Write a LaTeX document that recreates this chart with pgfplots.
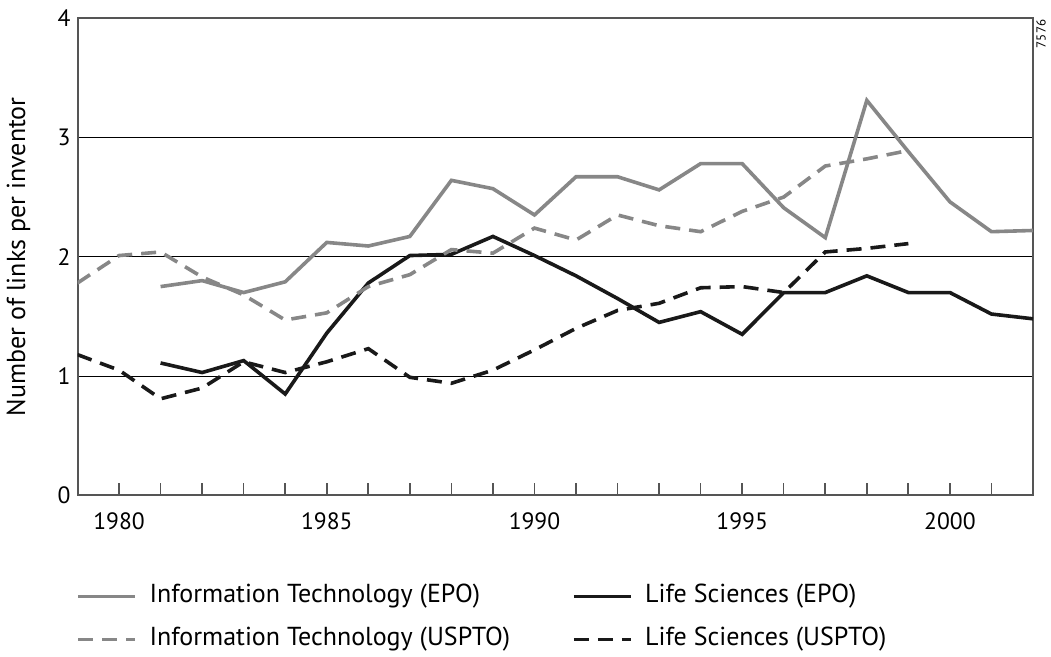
\documentclass[border=0pt]{standalone}
\usepackage{fontspec}
\setmainfont{PT Sans}
\usepackage{pgfplots}
\pgfplotsset{compat=1.18}
\definecolor{itgray}{RGB}{135,135,135}
\definecolor{lsblack}{RGB}{25,25,25}
\definecolor{framegray}{RGB}{85,85,85}
\newcommand{\tfont}{\fontsize{11.8}{14}\selectfont}
\newcommand{\lfont}{\fontsize{13}{15.5}\selectfont}
\begin{document}
\begin{tikzpicture}
\useasboundingbox (0,0) rectangle (525.5pt,328.5pt);
\begin{axis}[
  at={(38.75pt,80.75pt)}, anchor=south west,
  scale only axis, width=477.75pt, height=238.75pt,
  xmin=1979, xmax=2002, ymin=0, ymax=4,
  xtick={1980,1985,1990,1995,2000},
  minor xtick={1979,...,2002},
  ytick={0,1,2,3,4},
  xtick pos=bottom, ytick pos=left,
  tick align=inside,
  major tick length=6pt, minor tick length=6pt,
  tick style={framegray, line width=0.8pt},
  y tick style={draw=none},
  ymajorgrids, grid style={black, line width=0.6pt},
  axis line style={framegray, line width=1pt},
  /pgf/number format/assume math mode=true,
  /pgf/number format/1000 sep={},
  ticklabel style={font=\tfont},
  x tick label style={yshift=-5pt},
  ylabel={Number of links per inventor},
  every axis y label/.style={at={([xshift=-29.5pt]axis description cs:0,0.5)}, rotate=90, anchor=center, font=\lfont},
  legend columns=2,
  legend cell align=left,
  legend image code/.code={\draw[#1] (0pt,0pt) -- (28.5pt,0pt); \path (31pt,0pt);},
  legend style={draw=none, fill=none, inner sep=0pt, outer sep=0pt,
    at={(axis description cs:0,0)}, anchor=north west, xshift=-0.5pt, yshift=-42.2pt,
    font=\lfont, row sep=5pt, column sep=0pt,
    nodes={inner xsep=3.75pt, inner ysep=2pt, text height=9.5pt, text depth=3pt}},
]
\addplot[itgray, line width=1.8pt] coordinates {
(1981,1.75)(1982,1.80)(1983,1.70)(1984,1.79)(1985,2.12)(1986,2.09)(1987,2.17)(1988,2.64)(1989,2.57)(1990,2.35)(1991,2.67)(1992,2.67)(1993,2.56)(1994,2.78)(1995,2.78)(1996,2.41)(1997,2.16)(1998,3.31)(1999,2.88)(2000,2.46)(2001,2.21)(2002,2.22)};
\addlegendentry{\makebox[207.5pt][l]{Information Technology (EPO)}}
\addplot[lsblack, line width=1.8pt] coordinates {
(1981,1.11)(1982,1.03)(1983,1.13)(1984,0.85)(1985,1.36)(1986,1.78)(1987,2.01)(1988,2.02)(1989,2.17)(1990,2.01)(1991,1.84)(1992,1.65)(1993,1.45)(1994,1.54)(1995,1.35)(1996,1.70)(1997,1.70)(1998,1.84)(1999,1.70)(2000,1.70)(2001,1.52)(2002,1.48)};
\addlegendentry{Life Sciences (EPO)}
\addplot[itgray, line width=1.8pt, dash pattern=on 7.5pt off 4.5pt] coordinates {
(1979,1.78)(1980,2.01)(1981,2.04)(1982,1.83)(1983,1.68)(1984,1.47)(1985,1.53)(1986,1.75)(1987,1.85)(1988,2.06)(1989,2.03)(1990,2.24)(1991,2.14)(1992,2.35)(1993,2.26)(1994,2.21)(1995,2.38)(1996,2.50)(1997,2.76)(1998,2.82)(1999,2.89)};
\addlegendentry{\makebox[207.5pt][l]{Information Technology (USPTO)}}
\addplot[lsblack, line width=1.8pt, dash pattern=on 7.5pt off 4.5pt] coordinates {
(1979,1.18)(1980,1.05)(1981,0.81)(1982,0.90)(1983,1.12)(1984,1.03)(1985,1.12)(1986,1.23)(1987,0.99)(1988,0.94)(1989,1.05)(1990,1.22)(1991,1.40)(1992,1.55)(1993,1.61)(1994,1.74)(1995,1.75)(1996,1.70)(1997,2.04)(1998,2.07)(1999,2.11)};
\addlegendentry{Life Sciences (USPTO)}
\end{axis}
\node[rotate=90, anchor=center, font=\fontsize{6.5}{7}\selectfont, inner sep=0pt] at (520.5pt,311.5pt) {7576};
\end{tikzpicture}
\end{document}
